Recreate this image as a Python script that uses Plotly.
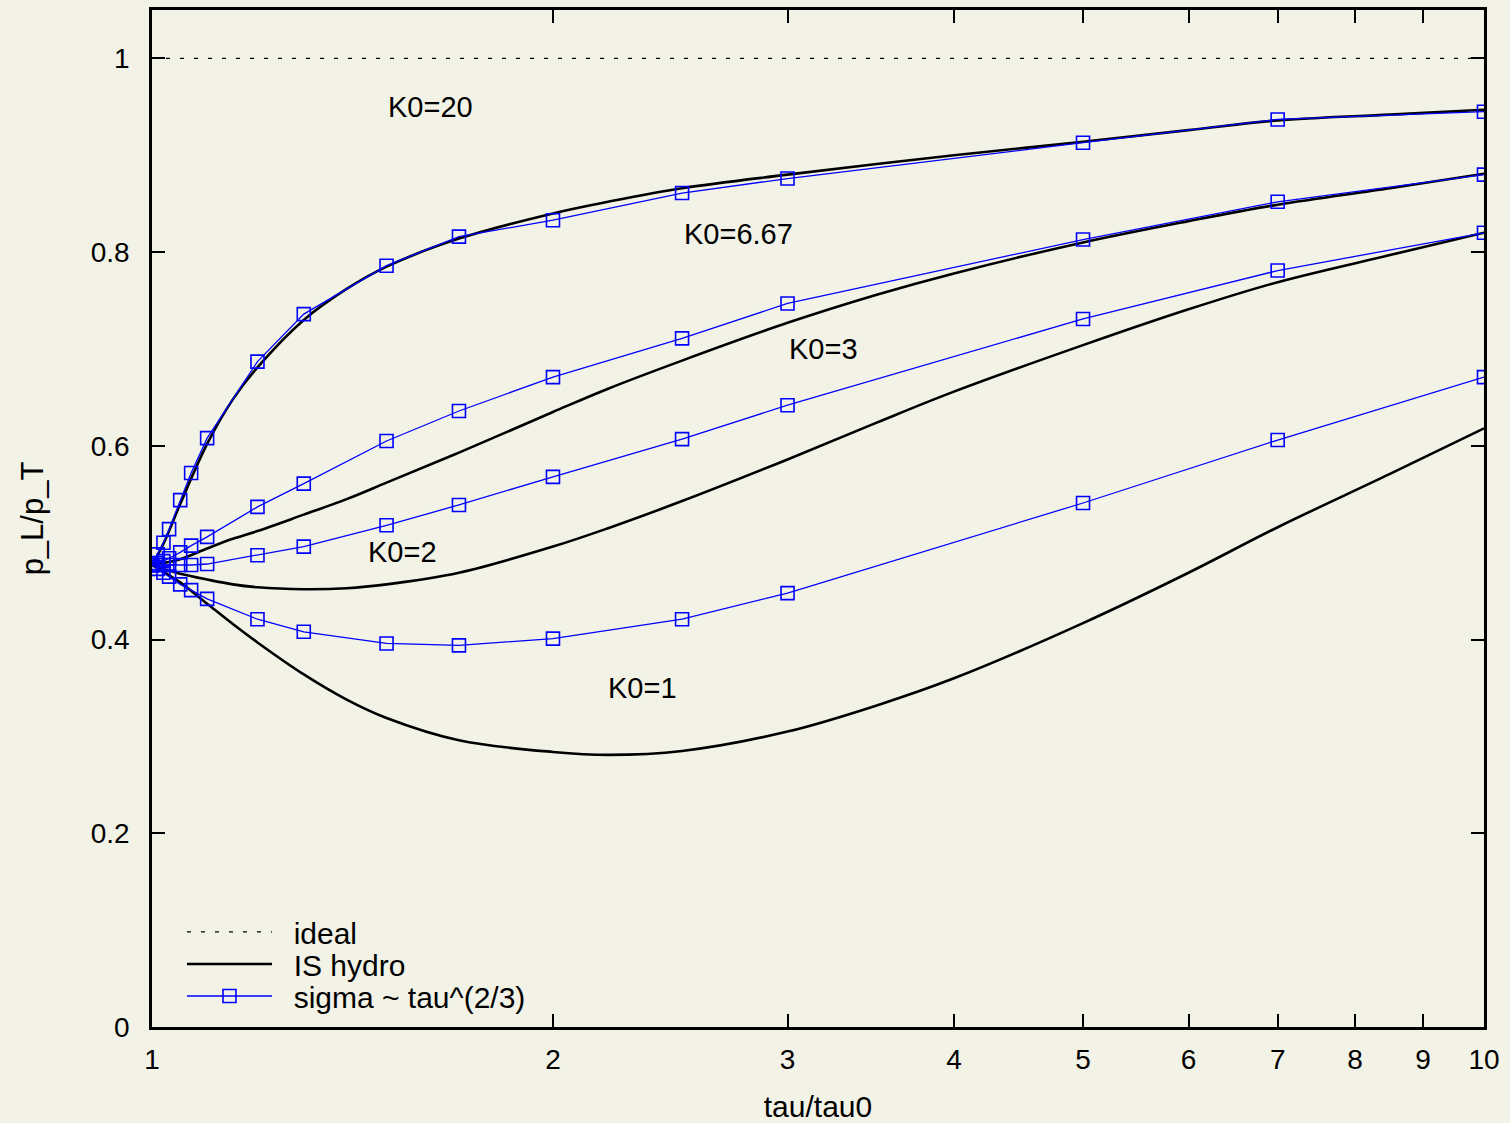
import math
import plotly.graph_objects as go

# time grid for the Israel-Stewart hydro curves
tau_hydro = [1.0, 1.02, 1.05, 1.1, 1.15, 1.2, 1.3, 1.4, 1.5, 1.7, 2.0, 2.2, 2.5,
             3.0, 3.5, 4.0, 5.0, 6.0, 7.0, 8.5, 10.0]
hydro_k20 = [0.477, 0.499, 0.540, 0.602, 0.648, 0.681, 0.730, 0.762, 0.785, 0.814,
             0.840, 0.852, 0.866, 0.880, 0.891, 0.900, 0.914, 0.926, 0.936, 0.942, 0.947]
hydro_k667 = [0.477, 0.479, 0.483, 0.494, 0.504, 0.512, 0.529, 0.545, 0.562, 0.593,
              0.635, 0.659, 0.688, 0.727, 0.756, 0.778, 0.810, 0.832, 0.849, 0.866, 0.881]
hydro_k3 = [0.477, 0.473, 0.468, 0.462, 0.457, 0.454, 0.452, 0.453, 0.457, 0.469,
            0.496, 0.515, 0.543, 0.586, 0.624, 0.656, 0.704, 0.741, 0.769, 0.797, 0.820]
hydro_k1 = [0.477, 0.470, 0.459, 0.437, 0.416, 0.397, 0.364, 0.338, 0.319, 0.296,
            0.284, 0.281, 0.285, 0.305, 0.332, 0.360, 0.417, 0.469, 0.516, 0.571, 0.618]

# time grid for the sigma ~ tau^(2/3) runs
tau_sigma = [1.0, 1.01, 1.02, 1.03, 1.05, 1.07, 1.1, 1.2, 1.3, 1.5, 1.7, 2.0, 2.5,
             3.0, 5.0, 7.0, 10.0]
sigma_k20 = [0.477, 0.488, 0.500, 0.514, 0.544, 0.572, 0.608, 0.687, 0.736, 0.786,
             0.816, 0.833, 0.861, 0.876, 0.913, 0.937, 0.945]
sigma_k667 = [0.477, 0.479, 0.481, 0.484, 0.490, 0.497, 0.506, 0.537, 0.561, 0.605,
              0.636, 0.671, 0.711, 0.747, 0.813, 0.852, 0.880]
sigma_k3 = [0.477, 0.477, 0.477, 0.477, 0.477, 0.477, 0.478, 0.487, 0.496, 0.518,
            0.539, 0.568, 0.607, 0.642, 0.731, 0.781, 0.820]
sigma_k1 = [0.477, 0.473, 0.469, 0.465, 0.457, 0.451, 0.442, 0.421, 0.408, 0.396,
            0.394, 0.401, 0.421, 0.448, 0.541, 0.606, 0.671]

ideal_x = [1.0, 10.0]
ideal_y = [1.0, 1.0]

# curve labels (tau, p_L/p_T)
label_text = ["K0=20", "K0=6.67", "K0=3", "K0=2", "K0=1"]
label_x = [1.617, 2.754, 3.19, 1.541, 2.333]
label_y = [0.950, 0.819, 0.700, 0.490, 0.350]

x_ticks = [1, 2, 3, 4, 5, 6, 7, 8, 9, 10]
y_ticks = [0, 0.2, 0.4, 0.6, 0.8, 1.0]
y_tick_text = ["0", "0.2", "0.4", "0.6", "0.8", "1"]

BG = "#f2f2e6"
FONT = "Liberation Sans, Arial, sans-serif"
PAD = "\u00a0\u00a0"

fig = go.Figure()

fig.add_trace(go.Scatter(
    x=ideal_x, y=ideal_y, mode="lines", name=PAD + "ideal", legend="legend",
    line=dict(color="black", width=1.2, dash="4px,10px"),
))

for i, ys in enumerate([hydro_k20, hydro_k667, hydro_k3, hydro_k1]):
    fig.add_trace(go.Scatter(
        x=tau_hydro, y=ys, mode="lines", name=PAD + "IS hydro",
        legend="legend2", legendgroup="hydro", showlegend=(i == 0),
        line=dict(color="black", width=2.6, shape="spline", smoothing=1.0),
    ))

for i, ys in enumerate([sigma_k20, sigma_k667, sigma_k3, sigma_k1]):
    fig.add_trace(go.Scatter(
        x=tau_sigma, y=ys, mode="lines+markers", name=PAD + "sigma ~ tau^(2/3)",
        legend="legend3", legendgroup="sigma", showlegend=(i == 0),
        line=dict(color="#0000ff", width=1.3),
        marker=dict(symbol="square-open", size=13,
                    color="#0000ff", line=dict(color="#0000ff", width=1.6)),
    ))

for t, x, y in zip(label_text, label_x, label_y):
    fig.add_annotation(x=math.log10(x), y=y, xref="x", yref="y", text=t,
                       showarrow=False,
                       font=dict(size=29, color="black", family=FONT))

legend_style = dict(xanchor="left", yanchor="middle",
                    xref="paper", yref="paper",
                    bgcolor="rgba(0,0,0,0)", borderwidth=0,
                    itemwidth=85, font=dict(size=30, family=FONT, color="black"))

fig.update_layout(
    width=1510, height=1123,
    paper_bgcolor=BG, plot_bgcolor=BG,
    margin=dict(l=152, r=26, t=10, b=96, autoexpand=False),
    font=dict(family=FONT, size=28, color="black"),
    showlegend=True,
    legend=dict(x=0.0225, y=0.0935, **legend_style),
    legend2=dict(x=0.0225, y=0.0620, **legend_style),
    legend3=dict(x=0.0225, y=0.0305, **legend_style),
)

fig.update_xaxes(
    type="log", range=[0, 1], automargin=False,
    tickvals=x_ticks, ticktext=[str(v) for v in x_ticks],
    ticks="inside", ticklen=13, tickwidth=2, tickcolor="black",
    showline=True, linewidth=2.6, linecolor="black", mirror="allticks",
    showgrid=False, zeroline=False,
    ticklabelstandoff=6,
    title=dict(text="tau/tau0", font=dict(size=30), standoff=24),
)
fig.update_yaxes(
    range=[0, 1.05], automargin=False,
    tickvals=y_ticks, ticktext=y_tick_text,
    ticks="inside", ticklen=13, tickwidth=2, tickcolor="black",
    showline=True, linewidth=2.6, linecolor="black", mirror="allticks",
    showgrid=False, zeroline=False,
    ticklabelstandoff=14,
    title=dict(text="p_L/p_T", font=dict(size=31), standoff=38),
)

fig.write_html("out.html")
